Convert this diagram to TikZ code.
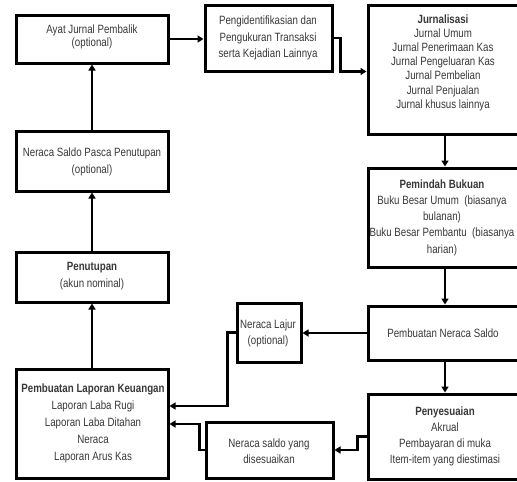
\documentclass[tikz,border=0pt]{standalone}
\usepackage{fontspec}
\setmainfont{Liberation Sans}[FakeStretch=0.81]
\usetikzlibrary{arrows.meta}
\begin{document}
\begin{tikzpicture}[x=1pt,y=-1pt,
  box/.style={draw, line width=3pt, inner sep=0pt},
  txt/.style={align=center, font=\fontsize{12}{15}\selectfont, text=black!78, inner sep=0pt},
  flow/.style={line width=2.3pt, -{Triangle[length=6pt,width=7pt]}}]
\clip (0,0) rectangle (517,482);
\fill[white] (0,0) rectangle (517,482);

% boxes (center, size)
\node[box, minimum width=152pt, minimum height=48pt]  (ajp)   at (92,39)      {};
\node[box, minimum width=127pt, minimum height=66pt]  (pen)   at (268.5,38)   {};
\node[box, minimum width=154pt, minimum height=129pt] (jur)   at (445,69.5)   {};
\node[box, minimum width=154pt, minimum height=99pt]  (pb)    at (445,217.5)  {};
\node[box, minimum width=154pt, minimum height=54pt]  (ns)    at (445,333)    {};
\node[box, minimum width=64pt,  minimum height=59pt]  (lajur) at (269,332.5)  {};
\node[box, minimum width=154pt, minimum height=85pt]  (pys)   at (445,436.5)  {};
\node[box, minimum width=127pt, minimum height=56pt]  (nsd)   at (269.5,450)  {};
\node[box, minimum width=152pt, minimum height=109pt] (lap)   at (92,423.5)   {};
\node[box, minimum width=152pt, minimum height=50pt]  (tutup) at (92,277)     {};
\node[box, minimum width=152pt, minimum height=60pt]  (pasca) at (92,161)     {};

% texts
\node[txt, font=\fontsize{12}{12.5}\selectfont] (tajp) at (92,37) {Ayat Jurnal Pembalik\\(optional)};
\node[txt, font=\fontsize{12}{16.5}\selectfont] (tpen) at (268,38) {Pengidentifikasian dan\\Pengukuran Transaksi\\serta Kejadian Lainnya};
\node[txt, font=\fontsize{12}{14.2}\selectfont] (tjur) at (443,62.5) {\textbf{Jurnalisasi}\\Jurnal Umum\\Jurnal Penerimaan Kas\\Jurnal Pengeluaran Kas\\Jurnal Pembelian\\Jurnal Penjualan\\Jurnal khusus lainnya};
\node[txt, font=\fontsize{12}{16.2}\selectfont] (tpb) at (442,217.5) {\textbf{Pemindah Bukuan}\\Buku Besar Umum\ \ (biasanya\\bulanan)\\Buku Besar Pembantu\ \ (biasanya\\harian)};
\node[txt] (tns) at (443,333) {Pembuatan Neraca Saldo};
\node[txt, font=\fontsize{12}{16.5}\selectfont] (tlajur) at (268,333.5) {Neraca Lajur\\(optional)};
\node[txt, font=\fontsize{12}{16}\selectfont] (tpys) at (445,436) {\textbf{Penyesuaian}\\Akrual\\Pembayaran di muka\\Item-item yang diestimasi};
\node[txt, font=\fontsize{12}{16}\selectfont] (tnsd) at (269,451) {Neraca saldo yang\\disesuaikan};
\node[txt, font=\fontsize{12}{17}\selectfont] (tlap) at (93,423) {\textbf{Pembuatan Laporan Keuangan}\\Laporan Laba Rugi\\Laporan Laba Ditahan\\Neraca\\Laporan Arus Kas};
\node[txt, font=\fontsize{12}{17}\selectfont] (ttutup) at (92,276.5) {\textbf{Penutupan}\\(akun nominal)};
\node[txt, font=\fontsize{12}{17}\selectfont] (tpasca) at (92,161.5) {Neraca Saldo Pasca Penutupan\\(optional)};

% connectors
\draw[flow] (ajp.east) -- (ajp.east -| pen.west);
\draw[flow] (pen.east) -- ++(7,0) |- ([yshift=-2pt]jur.west);
\draw[flow] (jur.south) -- (pb.north);
\draw[flow] (pb.south) -- (ns.north);
\draw[flow] (ns.west) -- (ns.west -| lajur.east);
\draw[flow] (ns.south) -- (pys.north);
\draw[flow] (pys.west) -- ++(-9,0) |- (nsd.east);
\draw[flow] (lajur.west) -- ++(-8,0) |- ([yshift=17.5pt]lap.east);
\draw[flow] (nsd.west) -- ++(-5,0) |- ([yshift=-0.5pt]lap.east);
\draw[flow] (lap.north) -- (tutup.south);
\draw[flow] (tutup.north) -- (pasca.south);
\draw[flow] (pasca.north) -- (ajp.south);
\end{tikzpicture}
\end{document}
